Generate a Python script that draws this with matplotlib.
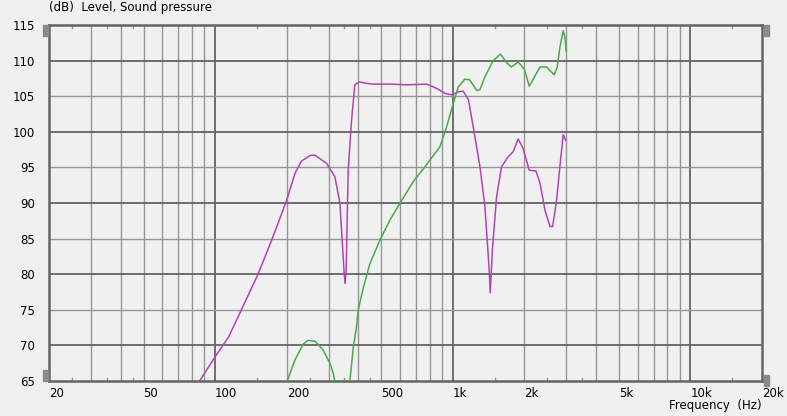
"""Recreate the SPL plot: two driver responses on a log frequency axis.

Saves out.png (787x416).
"""

from __future__ import annotations

import matplotlib

matplotlib.use("Agg")
import matplotlib.pyplot as plt
import matplotlib.ticker as mticker
from matplotlib.patches import Rectangle

# Purple trace, Hz / dB.
purple_f = [86, 100, 114, 129, 152, 173, 191, 200, 217, 231, 252, 263, 294,
            319, 335, 349, 352, 356, 363, 375, 387, 404, 435, 462, 550, 639,
            776, 855, 927, 989, 1055, 1107, 1164, 1219, 1301, 1365, 1423,
            1437, 1471, 1529, 1604, 1711, 1795, 1884, 1974, 2098, 2238, 2328,
            2442, 2564, 2630, 2734, 2822, 2916, 2985]
purple_db = [65.0, 68.4, 71.2, 75.0, 80.1, 84.8, 88.6, 90.4, 94.2, 95.9, 96.7,
             96.7, 95.6, 93.7, 90.0, 80.2, 78.7, 80.6, 94.6, 101.6, 106.6,
             107.0, 106.8, 106.7, 106.7, 106.6, 106.7, 106.1, 105.4, 105.2,
             105.6, 105.7, 104.5, 100.7, 95.1, 89.5, 80.6, 77.4, 83.9, 90.9,
             95.1, 96.5, 97.2, 99.0, 97.7, 94.6, 94.5, 92.8, 89.0, 86.7, 86.7,
             90.4, 95.1, 99.6, 98.8]

# Green trace; where it falls under the 65 dB floor it rides the frame.
green_f = [201, 217, 235, 246, 263, 284, 304, 314, 319, 369, 381, 393, 400,
           421, 448, 494, 544, 600, 682, 764, 883, 942, 1005, 1055, 1125,
           1177, 1262, 1301, 1365, 1479, 1588, 1687, 1766, 1884, 2000, 2098,
           2328, 2482, 2671, 2751, 2827, 2916, 2960, 3000]
green_db = [65.0, 68.0, 70.2, 70.7, 70.6, 69.4, 67.5, 66.1, 65.0, 65.0, 69.6,
            72.5, 75.0, 78.2, 81.5, 84.8, 87.6, 90.0, 93.0, 95.1, 97.9, 100.7,
            104.0, 106.3, 107.4, 107.3, 105.8, 105.9, 107.7, 110.0, 110.9,
            109.7, 109.1, 109.8, 108.8, 106.4, 109.1, 109.1, 108.0, 109.1,
            112.0, 114.2, 113.4, 111.3]

x_ticks = [20, 50, 100, 200, 500, 1000, 2000, 5000, 10000, 20000]
x_labels = ["20", "50", "100", "200", "500", "1k", "2k", "5k", "10k", "20k"]
x_small = [25, 35, 45, 150, 250, 350, 450, 1500, 2500, 3500, 15000]
y_ticks = list(range(65, 116, 5))

BG = "#f0f0f0"
DARK = "#646464"
LIGHT = "#969696"


def draw_grid(ax) -> None:
    for decade in (10, 100, 1000, 10000):
        for k in range(1, 10):
            f = decade * k
            if f <= 20 or f >= 20000:
                continue
            ax.axvline(f, color=DARK if k == 1 else LIGHT,
                       lw=1.3 if k == 1 else 1.0, zorder=1)
    for y in y_ticks[1:-1]:
        ax.axhline(y, color=DARK if y % 10 == 0 else LIGHT,
                   lw=1.3 if y % 10 == 0 else 1.0, zorder=1)
    # short inward marks at half-steps, top and bottom
    for f in x_small:
        ax.plot([f, f], [65, 65.45], color=LIGHT, lw=1, zorder=1,
                clip_on=False)
        ax.plot([f, f], [115, 114.55], color=LIGHT, lw=1, zorder=1,
                clip_on=False)


def main() -> None:
    fig = plt.figure(figsize=(7.87, 4.16), dpi=100, facecolor=BG)
    ax = fig.add_axes([49 / 787, 35 / 416, 713 / 787, 356 / 416],
                      facecolor=BG)
    ax.set_xscale("log")
    ax.set_xlim(20, 20000)
    ax.set_ylim(65, 115)

    draw_grid(ax)
    ax.plot(purple_f, purple_db, color="#b045b5", lw=1.1, zorder=3)
    ax.plot(green_f, green_db, color="#4aaa4a", lw=1.1, zorder=3)

    for side in ax.spines.values():
        side.set_color(DARK)
        side.set_linewidth(1.8)

    ax.set_xticks(x_ticks)
    ax.set_xticklabels(x_labels)
    ax.xaxis.set_minor_locator(mticker.NullLocator())
    ax.set_yticks(y_ticks)
    ax.tick_params(length=0, labelsize=8.5, colors="black")
    ax.tick_params(axis="y", pad=10)
    ax.tick_params(axis="x", pad=4)
    for lbl in ax.get_xticklabels():
        lbl.set_horizontalalignment("left")

    fig.text(49 / 787, 1 - 8 / 416, "(dB)  Level, Sound pressure",
             fontsize=8.5, va="center", ha="left")
    fig.text(762 / 787, 1 - 405 / 416, "Frequency  (Hz)",
             fontsize=8.5, va="center", ha="right")

    # little grey scroll handles on the frame corners
    for x0, y0, w, h in [(43, 25, 5, 11), (43, 370, 5, 11),
                         (764, 25, 5, 11), (764, 375, 5, 11)]:
        fig.patches.append(Rectangle((x0 / 787, 1 - (y0 + h) / 416),
                                     w / 787, h / 416, color="#8a8a8a",
                                     transform=fig.transFigure))

    fig.savefig("out.png", dpi=100, facecolor=BG)
    plt.close(fig)


if __name__ == "__main__":
    main()
